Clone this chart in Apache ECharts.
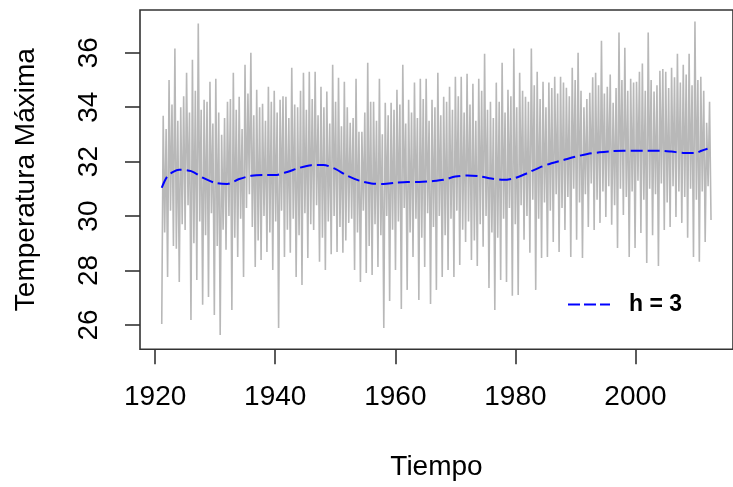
<!DOCTYPE html>
<html>
<head>
<meta charset="utf-8">
<script src="https://cdn.jsdelivr.net/npm/echarts@6/dist/echarts.min.js"></script>
<style>
html,body{margin:0;padding:0;background:#fff;overflow:hidden;}
#c{width:733px;height:487px;}
</style>
</head>
<body>
<div id="c"></div>
<script>
// time span of the monthly series (years)
const seriesStart = 1921.1;
const seriesEnd = 2012.58;
// yearly troughs and peaks (°C)
const lows = [26.04,27.76,28.9,27.58,29.49,26.18,27.65,26.74,27.03,26.37,
  25.63,28.76,26.55,28.5,27.76,30.8,28.13,28.39,28.68,28.02,25.89,
  28.5,28.65,27.76,27.47,28.46,29.49,28.32,28.02,28.6,28.68,
  28.65,29.75,28.02,27.58,27.91,27.84,28.13,25.89,26.88,28.02,
  26.59,27.29,28.5,26.92,28.13,26.77,27.29,27.76,28.02,27.76,
  28.2,29.05,28.39,28.17,28.87,27.36,26.55,27.65,27.58,27.07,
  27.1,29.13,28.65,27.29,28.46,28.5,29.05,28.68,29.49,28.5,
  29.13,28.46,29.6,29.49,29.75,29.97,29.68,28.83,30.04,28.5,
  28.83,29.38,28.28,29.3,28.17,29.49,29.6,29.97,29.75,29.2,28.5,
  28.32,29.05,29.86];
const highs = [33.68,35.0,36.15,34.0,35.26,35.74,37.07,34.27,34.93,35.04,
  32.99,34.2,35.26,34.38,35.56,36.0,34.64,34.12,34.75,34.6,
  34.27,34.38,35.45,34.0,35.26,35.3,35.3,34.75,34.57,35.56,
  35.08,34.93,33.43,35.04,33.1,35.63,34.2,35.04,34.16,34.16,
  34.64,35.56,34.27,34.9,35.04,35.04,34.27,35.26,34.38,34.75,
  35.12,35.12,35.23,34.86,35.04,35.96,34.2,34.9,35.63,34.64,
  36.15,35.26,34.38,36.15,35.3,34.93,34.9,35.12,35.12,34.71,
  35.45,36.0,34.0,34.53,35.26,36.44,34.75,34.16,36.74,36.18,
  35.04,34.93,35.6,36.74,34.57,35.34,35.3,35.45,35.96,35.56,
  35.96,37.14,35.12,33.43];
// secondary swings inside each year (dense band of the grey trace)
const midLows = [29.4,30.2,28.8,29.7,30.4,29.0,29.8,29.3,30.1,28.9,
  29.5,30.0,29.2,29.9,30.3,29.6,29.1,30.0,29.4,29.8,
  30.2,29.5,29.9,29.3,30.1,29.7,30.4,29.2,29.8,30.0,
  29.6,29.1,29.9,29.4,30.2,28.9,29.7,29.3,30.0,29.5,
  29.8,30.3,29.4,29.9,29.2,30.1,29.6,30.0,29.3,29.9,
  30.2,29.5,29.8,29.1,29.7,30.0,29.4,29.2,29.9,30.3,
  29.7,30.4,30.0,30.6,29.9,30.5,30.2,30.8,30.3,30.7,
  31.0,30.5,30.8,31.2,30.6,30.9,31.1,30.4,31.0,30.7,
  30.9,31.3,30.6,31.0,30.8,31.2,30.5,31.1,30.9,30.7,
  31.0,30.6,30.9,31.1];
const midHighs = [33.2,34.1,33.5,34.4,33.8,34.6,33.9,34.2,33.4,33.8,
  33.6,34.3,33.9,33.2,34.5,33.7,34.0,33.5,34.2,33.8,
  34.4,33.6,34.1,34.6,33.9,34.3,33.7,34.0,33.4,34.2,
  33.3,34.0,33.6,33.1,33.8,34.2,33.5,33.0,33.7,33.9,
  34.1,33.4,33.8,33.6,34.3,33.5,34.0,33.7,34.2,33.9,
  34.4,33.8,34.1,33.5,34.6,33.9,33.6,34.2,33.8,34.4,
  34.0,34.6,34.2,34.8,34.3,34.0,34.7,34.5,34.9,34.4,
  35.0,34.6,34.3,35.1,34.8,34.5,35.2,34.7,35.0,34.6,
  34.9,35.3,34.6,35.0,34.8,35.4,34.7,35.1,34.9,35.2,
  34.8,35.0,34.6,34.2];
// kernel smooth (h = 3)
const smoothYears = [1921.1,1922,1923,1924,1926,1928,1930,1932,1934,1936,1938,1940,1942,1944,1946,1948,1950,1952,1954,1956,1958,1960,1962,1964,1966,1968,1970,1972,1974,1976,1978,1980,1982,1984,1986,1988,1990,1992,1994,1996,1998,2000,2002,2004,2006,2008,2010,2011,2012];
const smoothValues = [31.04,31.45,31.62,31.70,31.65,31.40,31.22,31.18,31.36,31.48,31.51,31.51,31.62,31.77,31.87,31.88,31.73,31.48,31.30,31.20,31.18,31.22,31.25,31.25,31.28,31.33,31.45,31.49,31.46,31.38,31.33,31.40,31.58,31.78,31.94,32.06,32.18,32.28,32.34,32.38,32.40,32.40,32.40,32.40,32.37,32.32,32.32,32.40,32.47];
const xTicks = [1920,1940,1960,1980,2000];
const yTicks = [26,28,30,32,34,36];

// build the grey trace: low, high, midLow, midHigh for each year, closing with a low
const seq = [];
for (let i = 0; i < highs.length; i++) {
  seq.push(lows[i], highs[i], midLows[i], midHighs[i]);
}
seq.push(lows[highs.length]);
const step = (seriesEnd - seriesStart) / (seq.length - 1);
const grayData = seq.map((v, i) => [seriesStart + step * i, v]);
const smoothData = smoothYears.map((y, i) => [y, smoothValues[i]]);

const FONT = 'Liberation Sans, Arial, sans-serif';
const chart = echarts.init(document.getElementById('c'), null, {renderer: 'canvas'});
chart.setOption({
  animation: false,
  backgroundColor: '#fff',
  grid: {left: 140, top: 10, width: 599.2, height: 339.3, show: true, borderColor: '#333', borderWidth: 1.6, backgroundColor: 'transparent'},
  xAxis: {
    type: 'value', min: 1917.478, max: 2016.24,
    name: 'Tiempo', nameLocation: 'middle', nameGap: 104,
    nameTextStyle: {fontFamily: FONT, fontSize: 28, color: '#000'},
    axisLine: {show: false},
    axisTick: {show: true, length: 15, customValues: xTicks, lineStyle: {color: '#333', width: 1.6}},
    axisLabel: {customValues: xTicks, margin: 34, fontFamily: FONT, fontSize: 28, color: '#000',
      formatter: v => String(v)},
    splitLine: {show: false}
  },
  yAxis: {
    type: 'value', min: 25.108, max: 37.567,
    name: 'Temperatura Máxima', nameLocation: 'middle', nameGap: 100, nameRotate: 90,
    nameTextStyle: {fontFamily: FONT, fontSize: 28, color: '#000'},
    axisLine: {show: false},
    axisTick: {show: true, length: 15, customValues: yTicks, lineStyle: {color: '#333', width: 1.6}},
    axisLabel: {customValues: yTicks, rotate: 90, margin: 37, fontFamily: FONT, fontSize: 28, color: '#000',
      formatter: v => String(v)},
    splitLine: {show: false}
  },
  legend: {
    data: [{name: 'h = 3', icon: 'path://M0 0H12V2H0Z M16 0H28V2H16Z M32 0H42V2H32Z', itemStyle: {color: '#0000FF'}}],
    left: 568, top: 293, padding: 0, itemWidth: 42, itemHeight: 2,
    textStyle: {fontFamily: FONT, fontSize: 23, fontWeight: 'bold', color: '#000', padding: [0,0,0,14]}
  },
  series: [
    {name: 'gray', type: 'line', data: grayData, showSymbol: false, symbol: 'none',
     lineStyle: {color: '#B8B8B8', width: 1.6}, z: 2},
    {name: 'h = 3', type: 'line', data: smoothData, showSymbol: false, symbol: 'none', smooth: 0.3,
     itemStyle: {color: '#0000FF'},
     lineStyle: {color: '#0000FF', width: 2, type: [12, 5]}, z: 3}
  ]
});
</script>
</body>
</html>
